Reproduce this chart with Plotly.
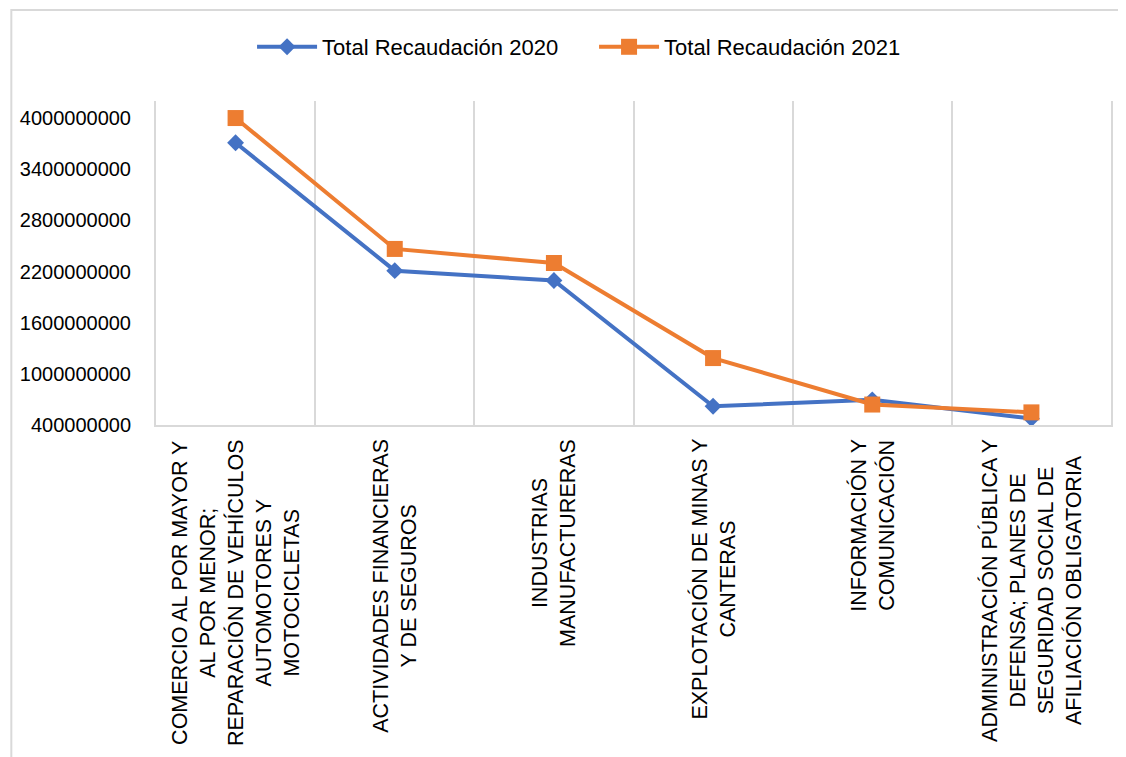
import plotly.graph_objects as go

categories = [
    "COMERCIO AL POR MAYOR Y<br>AL POR MENOR;<br>REPARACIÓN DE VEHÍCULOS<br>AUTOMOTORES Y<br>MOTOCICLETAS",
    "ACTIVIDADES FINANCIERAS<br>Y DE SEGUROS",
    "INDUSTRIAS<br>MANUFACTURERAS",
    "EXPLOTACIÓN DE MINAS Y<br>CANTERAS",
    "INFORMACIÓN Y<br>COMUNICACIÓN",
    "ADMINISTRACIÓN PÚBLICA Y<br>DEFENSA; PLANES DE<br>SEGURIDAD SOCIAL DE<br>AFILIACIÓN OBLIGATORIA",
]
recaudacion_2020 = [3710000000, 2210000000, 2095000000, 620000000, 695000000, 475000000]
recaudacion_2021 = [4000000000, 2465000000, 2300000000, 1185000000, 640000000, 548000000]
y_ticks = [400000000, 1000000000, 1600000000, 2200000000, 2800000000, 3400000000, 4000000000]

x_idx = list(range(len(categories)))

fig = go.Figure()
fig.add_trace(go.Scatter(
    x=x_idx, y=recaudacion_2020, name="Total Recaudación 2020",
    mode="lines+markers",
    line=dict(color="#4472C4", width=4),
    marker=dict(symbol="diamond", size=13, color="#4472C4"),
))
fig.add_trace(go.Scatter(
    x=x_idx, y=recaudacion_2021, name="Total Recaudación 2021",
    mode="lines+markers",
    line=dict(color="#ED7D31", width=4),
    marker=dict(symbol="square", size=16, color="#ED7D31"),
))

for i, lab in enumerate(categories):
    fig.add_annotation(
        x=i, y=0, xref="x", yref="paper", text=lab, showarrow=False,
        textangle=-90, xanchor="center", yanchor="top", yshift=-12,
        align="center",
        font=dict(family="Liberation Sans, Arial", size=21.5, color="#000000"),
    )

fig.add_shape(type="rect", xref="paper", yref="paper",
              x0=-0.1515, x1=1.1, y0=-1.2, y1=1.281,
              line=dict(color="#d9d9d9", width=2), fillcolor="rgba(0,0,0,0)", layer="below")

fig.update_layout(
    width=1126, height=757,
    margin=dict(l=146, r=23, t=93, b=340),
    paper_bgcolor="white", plot_bgcolor="white",
    font=dict(family="Liberation Sans, Arial", color="#000000"),
    showlegend=True,
    legend=dict(orientation="h", x=0.4587, xanchor="center", y=1.1667, yanchor="middle",
                font=dict(size=22, color="#000000"), itemwidth=60,
                entrywidth=267, entrywidthmode="pixels",
                bgcolor="rgba(0,0,0,0)"),
    xaxis=dict(
        range=[-0.5, len(categories) - 0.5],
        tickmode="array", tickvals=[i + 0.5 for i in range(-1, len(categories))],
        showticklabels=False, ticks="",
        showgrid=True, gridcolor="#d9d9d9", gridwidth=2,
        showline=True, linecolor="#d9d9d9", linewidth=2,
        zeroline=False,
    ),
    yaxis=dict(
        range=[400000000, 4200000000],
        tickmode="array", tickvals=y_ticks,
        ticktext=[str(v) for v in y_ticks],
        showgrid=False, zeroline=False,
        showline=True, mirror=True, linecolor="#d9d9d9", linewidth=2,
        tickfont=dict(size=20, color="#000000"),
        ticks="", ticklabelstandoff=19,
    ),
)

fig.write_html("out.html")
